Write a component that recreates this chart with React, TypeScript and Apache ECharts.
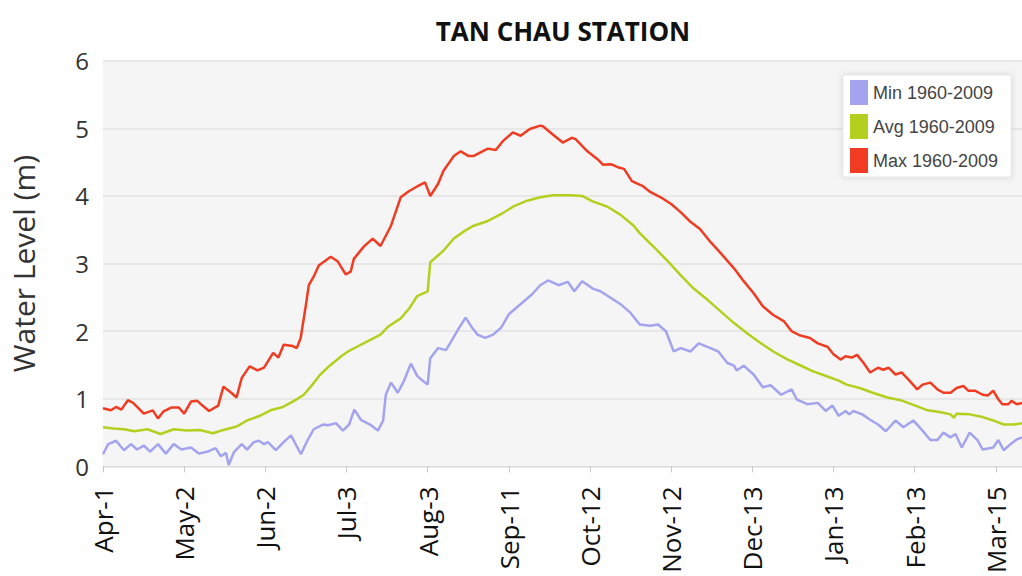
import React, { useEffect, useRef } from "react";
import * as echarts from "echarts";

const tickDays = [0, 31, 62, 93, 124, 155, 186, 217, 248, 279, 310, 341];
const tickLabels = ["Apr-1", "May-2", "Jun-2", "Jul-3", "Aug-3", "Sep-11", "Oct-12", "Nov-12", "Dec-13", "Jan-13", "Feb-13", "Mar-15"];
const seriesNames = ["Min 1960-2009", "Avg 1960-2009", "Max 1960-2009"];

const minSeries: [number, number][] = [
  [0, 0.18], [2, 0.33], [5, 0.38], [8, 0.24], [10.7, 0.33], [13, 0.25], [15.6, 0.31], [18, 0.22], [21, 0.33],
  [24, 0.19], [27, 0.33], [30, 0.25], [33.6, 0.28], [36.6, 0.19], [40, 0.22], [43, 0.27], [45, 0.15], [47, 0.2],
  [48, 0.02], [50, 0.21], [53, 0.33], [55, 0.25], [57.6, 0.36], [59.5, 0.38], [61.5, 0.33], [63, 0.36], [66, 0.24],
  [69, 0.36], [71.8, 0.46], [75.6, 0.18], [78, 0.38], [80.5, 0.55], [84, 0.62], [86, 0.61], [89, 0.64], [91.6, 0.53],
  [94, 0.62], [96, 0.84], [98.5, 0.69], [102, 0.62], [105, 0.53], [107, 0.68], [108, 1.06], [110, 1.24], [112.6, 1.09],
  [115, 1.27], [117.6, 1.52], [120, 1.34], [122, 1.27], [124, 1.21], [125, 1.6], [128, 1.75], [131, 1.72], [133, 1.85],
  [136, 2.05], [138.5, 2.2], [141, 2.05], [143, 1.95], [146, 1.9], [149, 1.95], [152, 2.05], [155, 2.25], [158, 2.35],
  [161, 2.45], [164, 2.55], [167, 2.68], [170, 2.75], [174, 2.68], [177.5, 2.73], [180, 2.59], [183, 2.74], [187, 2.63],
  [190, 2.59], [194, 2.49], [198, 2.39], [201.5, 2.27], [205, 2.1], [209, 2.08], [212, 2.1], [215, 2.0], [218, 1.7],
  [220.6, 1.75], [224.4, 1.7], [227.5, 1.82], [232, 1.75], [235, 1.7], [238.5, 1.53], [241, 1.49], [242, 1.42],
  [244.7, 1.49], [248.5, 1.36], [252, 1.17], [255, 1.2], [259, 1.06], [263, 1.14], [265, 0.99], [269, 0.92], [273, 0.94],
  [276, 0.82], [278.6, 0.9], [281, 0.75], [283.6, 0.82], [285, 0.77], [286.6, 0.82], [290, 0.77], [293, 0.69], [296, 0.62],
  [299, 0.52], [302.7, 0.68], [305.7, 0.58], [309.5, 0.68], [313, 0.53], [316, 0.39], [318.7, 0.39], [321, 0.5],
  [323.7, 0.43], [325.6, 0.48], [328, 0.28], [331, 0.5], [334, 0.39], [336, 0.25], [340, 0.28], [342, 0.39], [344, 0.24],
  [346.6, 0.33], [349, 0.4], [351, 0.43],
];

const avgSeries: [number, number][] = [
  [0, 0.58], [4, 0.56], [8, 0.55], [12, 0.52], [17, 0.55], [22, 0.48], [27, 0.55], [32, 0.53], [37, 0.54], [42, 0.49],
  [46, 0.54], [51, 0.59], [55, 0.68], [60, 0.75], [64, 0.83], [68.7, 0.88], [73, 0.97], [76.7, 1.06], [80, 1.21],
  [83, 1.36], [86, 1.47], [91, 1.63], [94, 1.71], [97, 1.77], [101, 1.85], [106, 1.95], [109, 2.07], [113.7, 2.19],
  [117, 2.34], [120, 2.52], [124, 2.59], [125, 3.02], [130, 3.19], [134, 3.37], [138, 3.48], [141.6, 3.56], [147, 3.63],
  [152, 3.73], [157, 3.85], [162, 3.93], [167, 3.98], [172, 4.01], [178.6, 4.01], [183, 4.0], [187, 3.92], [192.7, 3.84],
  [197.7, 3.72], [202.7, 3.56], [205, 3.45], [210, 3.26], [215.6, 3.04], [220.6, 2.83], [225.6, 2.63], [231, 2.46],
  [236, 2.29], [241, 2.12], [246, 1.97], [251, 1.83], [256, 1.7], [261, 1.59], [266, 1.5], [271, 1.41], [276.7, 1.33],
  [281, 1.27], [284, 1.21], [289, 1.16], [294, 1.09], [299.6, 1.02], [304.6, 0.98], [309.5, 0.91], [315, 0.83],
  [320, 0.8], [323.7, 0.77], [325, 0.72], [326, 0.78], [331, 0.77], [336, 0.73], [340, 0.68], [344, 0.62], [348, 0.62],
  [351, 0.64],
];

const maxSeries: [number, number][] = [
  [0, 0.86], [3, 0.83], [5, 0.88], [7, 0.84], [9.5, 0.98], [11.5, 0.94], [15.6, 0.78], [19, 0.83], [21, 0.71], [23, 0.81],
  [26, 0.87], [29, 0.87], [31, 0.78], [33.6, 0.96], [36, 0.97], [38, 0.9], [40.5, 0.82], [44, 0.9], [46, 1.18], [49, 1.09],
  [51, 1.02], [53, 1.31], [56, 1.48], [59, 1.42], [61.5, 1.46], [65, 1.68], [67, 1.61], [69, 1.8], [72.5, 1.78], [74, 1.75],
  [75.5, 1.9], [77.5, 2.39], [78.6, 2.68], [80.5, 2.81], [82.4, 2.97], [87, 3.1], [89.7, 3.03], [92.7, 2.84], [94.6, 2.88],
  [95.8, 3.07], [99.6, 3.25], [103, 3.37], [106, 3.26], [110, 3.56], [113.7, 3.98], [116.8, 4.07], [120, 4.14], [123, 4.2],
  [125, 4.0], [128, 4.18], [130, 4.37], [134, 4.59], [136.6, 4.66], [139.7, 4.59], [141.5, 4.59], [144, 4.64], [147, 4.7],
  [150, 4.68], [152.7, 4.81], [156.5, 4.94], [159.5, 4.89], [163, 4.99], [167, 5.04], [168, 5.03], [171.8, 4.91],
  [175.6, 4.79], [179, 4.86], [180.5, 4.84], [185, 4.66], [189, 4.54], [191, 4.46], [194, 4.47], [197, 4.42], [199, 4.4],
  [202, 4.22], [206, 4.15], [209, 4.06], [213, 3.98], [217, 3.88], [220.6, 3.76], [224, 3.63], [228, 3.51], [232, 3.32],
  [236, 3.15], [241, 2.93], [244.7, 2.74], [248.5, 2.56], [252, 2.37], [256, 2.24], [260, 2.15], [263, 2.0], [266, 1.94],
  [270, 1.9], [273, 1.82], [276.7, 1.77], [279, 1.66], [281.7, 1.58], [283.6, 1.63], [286, 1.61], [288, 1.65],
  [290.5, 1.53], [293, 1.39], [296, 1.46], [298, 1.43], [300, 1.46], [302.7, 1.36], [305, 1.39], [308, 1.27], [311, 1.14],
  [313, 1.21], [316, 1.24], [318.7, 1.14], [321, 1.09], [323.7, 1.09], [326, 1.16], [328.6, 1.19], [330.5, 1.12],
  [333, 1.12], [336, 1.06], [338, 1.05], [340, 1.12], [342, 0.99], [343.5, 0.92], [345.8, 0.92], [347, 0.97], [349, 0.92],
  [351, 0.94],
];

const colors = ["#a3a3ee", "#b5cf1e", "#f03c22"];

export default function App() {
  const ref = useRef<HTMLDivElement>(null);
  useEffect(() => {
    if (!ref.current) return;
    const chart = echarts.init(ref.current, null, { renderer: "svg" });
    const fmt = (v: number) => {
      const i = tickDays.indexOf(Math.round(v));
      return i >= 0 ? tickLabels[i] : "";
    };
    chart.setOption({
      animation: false,
      backgroundColor: "#ffffff",
      color: colors,
      title: {
        text: "TAN CHAU STATION",
        left: 558,
        textAlign: "center",
        top: 13,
        textStyle: { fontFamily: "Open Sans", fontWeight: "bold", fontSize: 26, color: "#111" },
      },
      legend: {
        orient: "vertical",
        left: 843,
        top: 75,
        icon: "rect",
        itemWidth: 18,
        itemHeight: 25,
        itemGap: 9,
        itemStyle: { borderWidth: 0 },
        padding: [5, 13, 4, 7],
        backgroundColor: "#ffffff",
        borderColor: "#e6e6e6",
        borderWidth: 1,
        shadowColor: "rgba(0,0,0,0.12)",
        shadowBlur: 6,
        textStyle: { fontFamily: "Liberation Sans", fontSize: 18, color: "#444" },
        data: seriesNames,
      },
      grid: {
        left: 102,
        right: 0,
        top: 60.7,
        bottom: 106.7,
        show: true,
        backgroundColor: "#f5f5f5",
        borderWidth: 0,
      },
      xAxis: {
        type: "value",
        min: 0,
        max: 351,
        axisLine: { show: true, lineStyle: { color: "#dcdcdc", width: 1 } },
        axisTick: { show: true, customValues: tickDays, length: 6, lineStyle: { color: "#c8c8c8" } },
        axisLabel: {
          customValues: tickDays,
          formatter: fmt,
          rotate: 90,
          margin: 20,
          fontFamily: "Open Sans",
          fontSize: 26,
          color: "#111",
        },
        splitLine: { show: false },
      },
      yAxis: {
        type: "value",
        min: 0,
        max: 6,
        interval: 1,
        name: "Water Level (m)",
        nameLocation: "middle",
        nameGap: 65,
        nameTextStyle: { fontFamily: "Open Sans", fontSize: 30, color: "#333" },
        axisLine: { show: false },
        axisTick: { show: false },
        axisLabel: { margin: 14, fontFamily: "Open Sans", fontSize: 24, color: "#333" },
        splitLine: { lineStyle: { color: "#e2e2e2", width: 1.5 } },
      },
      series: [
        { name: seriesNames[0], type: "line", data: minSeries, showSymbol: false, lineStyle: { width: 2.5, color: colors[0] }, itemStyle: { color: colors[0] } },
        { name: seriesNames[1], type: "line", data: avgSeries, showSymbol: false, lineStyle: { width: 2.5, color: colors[1] }, itemStyle: { color: colors[1] } },
        { name: seriesNames[2], type: "line", data: maxSeries, showSymbol: false, lineStyle: { width: 2.5, color: colors[2] }, itemStyle: { color: colors[2] } },
      ],
    });
    return () => chart.dispose();
  }, []);
  return <div ref={ref} style={{ position: "fixed", left: 0, top: 0, width: 1022, height: 576 }} />;
}
